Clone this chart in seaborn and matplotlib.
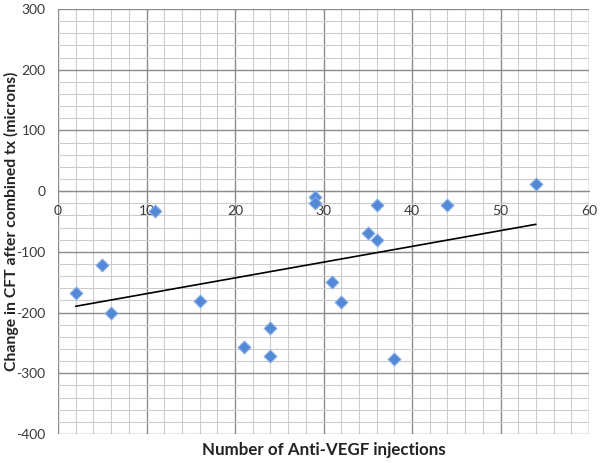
import numpy as np
import pandas as pd
import matplotlib
matplotlib.use("Agg")
import matplotlib.pyplot as plt
import seaborn as sns
from matplotlib.ticker import MultipleLocator

# Data
injections = [2, 5, 6, 11, 16, 21, 24, 24, 29, 29, 31, 32, 35, 36, 36, 38, 44, 54]
cft_change = [-168, -122, -200, -32, -181, -256, -225, -272, -10, -20,
              -150, -183, -69, -81, -22, -277, -22, 11]
x_ticks = [0, 10, 20, 30, 40, 50, 60]
y_ticks = [300, 200, 100, 0, -100, -200, -300, -400]

df = pd.DataFrame({"injections": injections, "cft": cft_change})

sns.set_style("white")
plt.rcParams["font.family"] = ["Lato", "DejaVu Sans"]
plt.rcParams["axes.unicode_minus"] = False

fig = plt.figure(figsize=(6.01, 4.63), dpi=100)
ax = fig.add_axes([58 / 601, 1 - 434 / 463, (589 - 58) / 601, (434 - 9) / 463])

# scatter points
sns.scatterplot(data=df, x="injections", y="cft", ax=ax, marker="D", s=42,
                color="#5288d6", edgecolor="#86aee6", linewidth=0.8, zorder=4)

# linear trend line
sns.regplot(data=df, x="injections", y="cft", ax=ax, scatter=False, ci=None,
            line_kws={"color": "black", "linewidth": 1.2, "zorder": 3})

ax.set_xlim(0, 60)
ax.set_ylim(-400, 300)
ax.set_xticks(x_ticks)
ax.set_yticks(y_ticks)
ax.xaxis.set_minor_locator(MultipleLocator(2))
ax.yaxis.set_minor_locator(MultipleLocator(20))
ax.grid(which="major", color="#8c8c8c", linewidth=1.0, zorder=1)
ax.grid(which="minor", color="#cccccc", linewidth=0.8, zorder=0)
ax.set_axisbelow(True)

# x axis crosses at y = 0 like the original spreadsheet chart
for side in ["top", "right", "left"]:
    ax.spines[side].set_visible(False)
ax.spines["bottom"].set_position(("data", 0))
ax.spines["bottom"].set_color("#8c8c8c")
ax.tick_params(axis="both", which="both", length=0, labelsize=10,
               labelcolor="#3a3a3a")
ax.tick_params(axis="x", pad=10)
ax.tick_params(axis="y", pad=9)

ax.set_xlabel("Number of Anti-VEGF injections", fontsize=12.2,
              fontweight="bold", color="#222222", va="center")
ax.xaxis.set_label_coords(0.5, -16 / 425)
ax.set_ylabel("Change in CFT after combined tx (microns)", fontsize=11.3,
              fontweight="bold", color="#222222", va="center")
ax.yaxis.set_label_coords(-47 / 531, 0.5)

fig.savefig("out.png", dpi=100)
